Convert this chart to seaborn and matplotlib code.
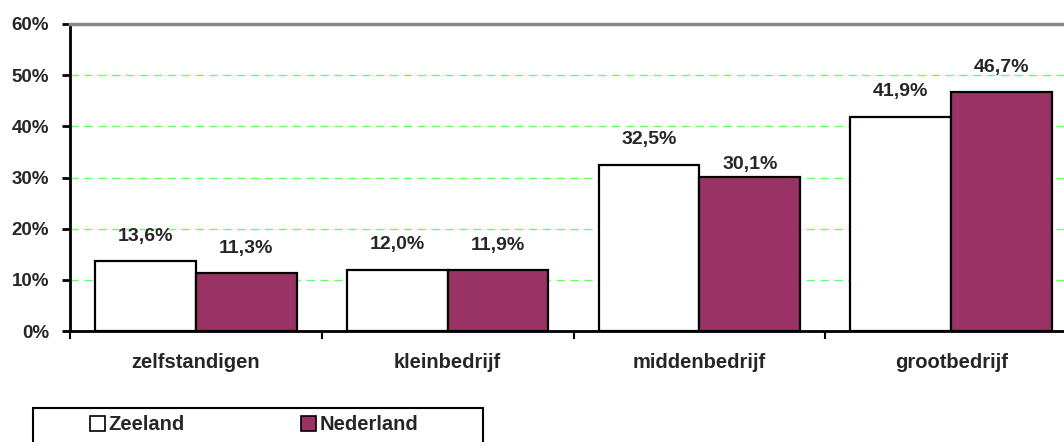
import matplotlib
matplotlib.use("Agg")
import matplotlib.pyplot as plt
import seaborn as sns
import pandas as pd
from matplotlib.patches import Patch, Rectangle

categories = ["zelfstandigen", "kleinbedrijf", "middenbedrijf", "grootbedrijf"]
series_names = ["Zeeland", "Nederland"]
zeeland = [13.6, 12.0, 32.5, 41.9]
nederland = [11.3, 11.9, 30.1, 46.7]
y_ticks = [0, 10, 20, 30, 40, 50, 60]

colors = {"Zeeland": "#ffffff", "Nederland": "#993366"}

df = pd.DataFrame({
    "categorie": categories * 2,
    "serie": [series_names[0]] * 4 + [series_names[1]] * 4,
    "waarde": zeeland + nederland,
})

sns.set_theme(style="white")
plt.rcParams["font.family"] = ["Liberation Sans", "DejaVu Sans"]
plt.rcParams["font.weight"] = "bold"

fig = plt.figure(figsize=(10.64, 4.42), dpi=100)
ax = fig.add_axes([70 / 1064, 1 - 331 / 442, (1077 - 70) / 1064, (331 - 24) / 442])

for y in y_ticks[1:-1]:
    ax.axhline(y, color="#66ff66", lw=1, ls=(0, (6, 4)), zorder=0)

sns.barplot(data=df, x="categorie", y="waarde", hue="serie", order=categories,
            hue_order=series_names, palette=colors, width=0.8,
            edgecolor="black", linewidth=1.6, saturation=1, ax=ax, legend=False,
            zorder=2)

ax.set_ylim(0, 60)
ax.set_xlim(-0.5, 3.5)
ax.set_yticks(y_ticks)
ax.set_yticklabels([f"{v}%" for v in y_ticks], fontsize=13.5, fontweight="bold")
ax.tick_params(axis="y", direction="out", length=6, width=2, color="black", pad=9, left=True)

ax.set_xticks([-0.5, 0.5, 1.5, 2.5, 3.5])
ax.set_xticklabels([""] * 5)
ax.tick_params(axis="x", which="major", direction="out", length=6, width=1.5, color="black", bottom=True)
ax.set_xticks(range(len(categories)), minor=True)
ax.set_xticklabels(categories, minor=True, fontsize=14.5, fontweight="bold")
ax.tick_params(axis="x", which="minor", length=0, pad=16)
ax.set_xlabel("")
ax.set_ylabel("")

for s in ["left", "bottom"]:
    ax.spines[s].set_color("black")
    ax.spines[s].set_linewidth(2)
ax.spines["top"].set_color("#888888")
ax.spines["top"].set_linewidth(2.5)
ax.spines["right"].set_visible(False)

label_offsets = {(1, 2): 12}
for hi, cont in enumerate(ax.containers):
    vals = zeeland if hi == 0 else nederland
    for ci, (bar, v) in enumerate(zip(cont, vals)):
        off = label_offsets.get((hi, ci), 25)
        ax.annotate(f"{v:.1f}%".replace(".", ","),
                    (bar.get_x() + bar.get_width() / 2, bar.get_height()),
                    xytext=(0, off * 0.72), textcoords="offset points",
                    ha="center", va="center", fontsize=14, fontweight="bold", zorder=5)

# legend frame
fig.patches.append(Rectangle((33 / 1064, -0.05), 450 / 1064, 0.05 + (442 - 408) / 442,
                             transform=fig.transFigure, fill=False, edgecolor="black",
                             linewidth=1.5))
handles = [Patch(facecolor=colors[n], edgecolor="black", linewidth=1.2, label=n) for n in series_names]
fig.legend(handles=handles, loc="center left", bbox_to_anchor=(80 / 1064, 1 - 425 / 442),
           ncol=2, frameon=False, handlelength=0.75, handleheight=0.75, handletextpad=0.15,
           columnspacing=5.8, borderpad=0, prop={"size": 14.5, "weight": "bold"})

fig.savefig("out.png", dpi=100)
